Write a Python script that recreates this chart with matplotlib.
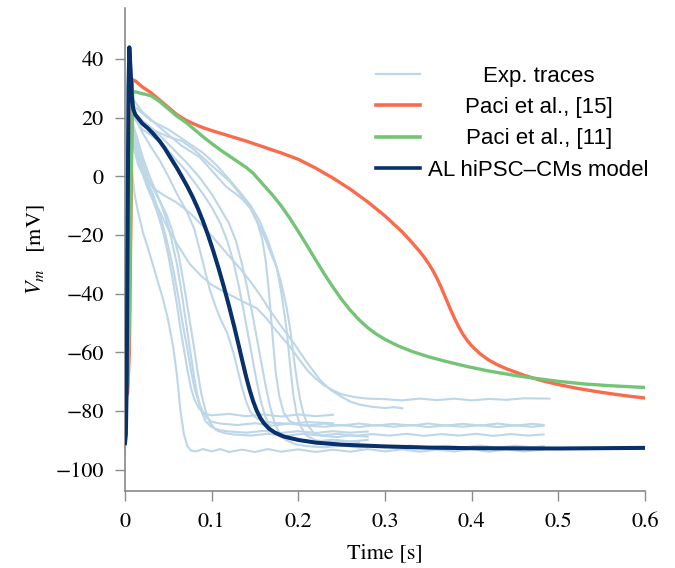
import matplotlib
matplotlib.use("Agg")
import matplotlib.pyplot as plt
from matplotlib.transforms import Affine2D

# ---------------- data (time [s], Vm [mV]) ----------------
al_t = [0, 0.001, 0.002, 0.003, 0.004, 0.005, 0.0065, 0.008, 0.0095, 0.012, 0.016, 0.02, 0.026,
        0.032, 0.04, 0.046, 0.052, 0.06, 0.066, 0.072, 0.078, 0.084, 0.09, 0.096, 0.102, 0.108,
        0.114, 0.12, 0.126, 0.131, 0.136, 0.14, 0.144, 0.148, 0.152, 0.156, 0.16, 0.166, 0.173,
        0.183, 0.2, 0.22, 0.25, 0.3, 0.35, 0.4, 0.5, 0.6]
al_v = [-91, -88, -70, -20, 30, 44, 36, 27, 23, 21, 19.5, 18, 16.5, 14.7, 12, 9.5, 6.6, 2.8, -0.3,
        -3.5, -7.0, -10.9, -15.3, -20.2, -25.6, -31.4, -37.6, -44.2, -51.2, -57.4, -63.7, -68.6,
        -73.0, -76.8, -79.9, -82.3, -84.1, -86.0, -87.4, -88.7, -89.9, -90.8, -91.5, -92.1, -92.5,
        -92.7, -92.8, -92.6]

p15_t = [0, 0.003, 0.005, 0.007, 0.0085, 0.012, 0.02, 0.03, 0.04, 0.05, 0.06, 0.07, 0.08, 0.09,
         0.1, 0.12, 0.14, 0.16, 0.18, 0.2, 0.22, 0.24, 0.26, 0.28, 0.3, 0.32, 0.33, 0.34, 0.345,
         0.35, 0.355, 0.36, 0.365, 0.37, 0.375, 0.38, 0.385, 0.39, 0.395, 0.4, 0.41, 0.42, 0.43,
         0.44, 0.46, 0.48, 0.5, 0.52, 0.54, 0.56, 0.58, 0.6]
p15_v = [-76, -74, -60, -10, 33, 32.5, 30.5, 28.5, 26, 23.5, 21, 19.2, 17.8, 16.6, 15.6, 13.8, 12,
         10, 8, 5.8, 2.8, -0.6, -4.4, -8.7, -13.5, -19, -22.2, -25.6, -27.5, -29.6, -32, -34.8,
         -38, -41.5, -45, -48.3, -51.3, -53.9, -56, -57.8, -60.6, -62.7, -64.3, -65.6, -67.8,
         -69.6, -71, -72.2, -73.2, -74.1, -74.9, -75.6]

p11_t = [0, 0.003, 0.005, 0.007, 0.009, 0.02, 0.03, 0.04, 0.05, 0.06, 0.072, 0.08, 0.09, 0.1,
         0.11, 0.12, 0.13, 0.14, 0.148, 0.16, 0.17, 0.18, 0.19, 0.2, 0.21, 0.22, 0.23, 0.24,
         0.25, 0.26, 0.27, 0.28, 0.29, 0.3, 0.315, 0.332, 0.35, 0.37, 0.394, 0.42, 0.45, 0.471,
         0.5, 0.53, 0.56, 0.6]
p11_v = [-72, -70, -50, 0, 29, 28.2, 27.5, 25.5, 23, 20.5, 18, 16, 13.5, 11.2, 9, 7, 5, 3, 1, -3,
         -6.3, -10, -14.2, -18.8, -23.6, -28.5, -33.3, -37.8, -42, -45.7, -48.9, -51.6, -53.8,
         -55.6, -57.8, -59.8, -61.5, -63.1, -64.8, -66.4, -67.9, -68.8, -69.9, -70.8, -71.4, -72]

# experimental traces, each a list of (time, Vm) points
e1 = [(0, -91), (0.0015, -60), (0.003, 5), (0.0045, 22), (0.006, 14), (0.008, 2), (0.011, -6),
      (0.015, -12), (0.021, -19.5), (0.026, -24), (0.032, -30), (0.038, -36), (0.044, -42),
      (0.049, -48), (0.053, -54), (0.056, -59), (0.06, -68), (0.064, -80), (0.068, -88),
      (0.072, -92), (0.076, -93.5), (0.082, -93.8), (0.09, -93), (0.1, -93.8), (0.11, -93),
      (0.12, -94), (0.135, -93.2), (0.15, -94), (0.165, -93), (0.18, -93.9), (0.2, -93.1),
      (0.22, -94), (0.24, -93.2), (0.26, -93.9), (0.28, -93), (0.3, -93.8), (0.32, -93.1),
      (0.34, -93.9), (0.36, -93.2), (0.38, -93.8), (0.4, -93), (0.42, -93.9), (0.44, -93.1),
      (0.46, -93.8), (0.483, -93.2)]
e2 = [(0, -88), (0.0015, -55), (0.003, 8), (0.0045, 24), (0.007, 18), (0.01, 12), (0.015, 6),
      (0.02, 1), (0.026, -4), (0.032, -8), (0.038, -13), (0.044, -19), (0.05, -27), (0.055, -35),
      (0.06, -44), (0.064, -52), (0.068, -59), (0.072, -66), (0.076, -72), (0.08, -76),
      (0.085, -79), (0.09, -80.5), (0.095, -81.2), (0.1, -81.5), (0.12, -81), (0.14, -81.8),
      (0.16, -81.2), (0.18, -81.9), (0.2, -81.2), (0.22, -81.8), (0.24, -81.3)]
e3 = [(0, -92), (0.0015, -58), (0.003, 6), (0.0045, 25), (0.007, 20), (0.01, 14), (0.015, 8),
      (0.02, 3), (0.026, -2), (0.032, -6), (0.038, -11), (0.044, -17), (0.05, -24), (0.056, -32),
      (0.062, -42), (0.067, -51), (0.072, -59), (0.076, -66), (0.08, -72), (0.085, -77),
      (0.09, -80.5), (0.095, -82.5), (0.1, -83.7), (0.11, -84.3), (0.13, -84.8), (0.15, -84.2),
      (0.17, -85), (0.19, -84.3), (0.21, -85), (0.23, -84.3), (0.25, -85), (0.27, -84.3),
      (0.29, -85), (0.31, -84.4), (0.33, -85), (0.35, -84.3), (0.37, -85), (0.39, -84.4),
      (0.41, -85), (0.43, -84.3), (0.45, -85), (0.47, -84.4), (0.483, -84.8)]
e4 = [(0, -93), (0.0015, -60), (0.003, 5), (0.0045, 26), (0.007, 22), (0.01, 17), (0.015, 12),
      (0.02, 7), (0.027, 1), (0.034, -4), (0.041, -9), (0.048, -15), (0.054, -22), (0.06, -30),
      (0.065, -39), (0.07, -49), (0.075, -59), (0.079, -67), (0.083, -74), (0.088, -80),
      (0.093, -83.5), (0.1, -85.5), (0.11, -86.6), (0.12, -87), (0.14, -87.4), (0.16, -86.8),
      (0.18, -87.5), (0.2, -86.9), (0.22, -87.5), (0.24, -86.9), (0.26, -87.4), (0.28, -87)]
e5 = [(0, -95), (0.0015, -62), (0.003, 4), (0.0045, 24), (0.007, 20), (0.01, 15), (0.015, 10),
      (0.02, 5), (0.027, -1), (0.034, -5), (0.041, -9), (0.048, -13), (0.055, -19), (0.062, -27),
      (0.068, -37), (0.074, -48), (0.08, -59), (0.084, -67), (0.088, -74), (0.093, -80),
      (0.098, -84), (0.105, -86.5), (0.115, -87.6), (0.125, -88), (0.145, -88.4), (0.165, -87.8),
      (0.185, -88.5), (0.205, -87.8), (0.225, -88.4), (0.245, -87.8), (0.265, -88.5),
      (0.285, -87.9), (0.305, -88.4), (0.325, -87.8), (0.345, -88.5), (0.365, -87.9),
      (0.385, -88.4), (0.405, -87.8), (0.425, -88.5), (0.445, -87.9), (0.465, -88.4),
      (0.483, -88)]
m1 = [(0, -90), (0.0015, -58), (0.003, 5), (0.0045, 26), (0.007, 23), (0.01, 21), (0.02, 15),
      (0.03, 10), (0.04, 5.5), (0.05, 0), (0.06, -6), (0.072, -12.4), (0.08, -18), (0.087, -26),
      (0.093, -33), (0.098, -38.8), (0.104, -44), (0.11, -48.5), (0.118, -53.5), (0.125, -60),
      (0.13, -66), (0.135, -72), (0.14, -77), (0.145, -80.5), (0.152, -82.5), (0.16, -83.5),
      (0.17, -84), (0.19, -84.4), (0.21, -83.8), (0.24, -84.2)]
m2 = [(0, -90), (0.0015, -58), (0.003, 5), (0.0045, 25), (0.007, 22), (0.01, 20), (0.02, 16),
      (0.03, 14), (0.04, 12), (0.055, 7), (0.07, 2), (0.08, -2), (0.09, -6), (0.1, -10.5),
      (0.11, -16), (0.118, -22), (0.125, -29), (0.131, -37), (0.137, -46), (0.142, -54),
      (0.147, -62), (0.152, -70), (0.157, -77), (0.162, -82), (0.168, -86), (0.175, -88.2),
      (0.185, -89.5), (0.2, -90), (0.22, -90.4), (0.24, -89.8), (0.26, -90.4), (0.28, -89.9)]
m3 = [(0, -92), (0.0015, -58), (0.003, 5), (0.0045, 27), (0.007, 24), (0.01, 22), (0.02, 18),
      (0.03, 16), (0.04, 14), (0.055, 9.5), (0.07, 5), (0.085, 0), (0.1, -6), (0.11, -11),
      (0.12, -16), (0.128, -22), (0.135, -30), (0.141, -38), (0.147, -47), (0.152, -55),
      (0.157, -63), (0.162, -71), (0.167, -78), (0.172, -83.5), (0.178, -87.5), (0.186, -90),
      (0.196, -91.3), (0.21, -92), (0.23, -92.4), (0.25, -91.8), (0.27, -92.5), (0.29, -91.9),
      (0.31, -92.4), (0.33, -91.8), (0.35, -92.5), (0.37, -91.9), (0.39, -92.4), (0.41, -91.8),
      (0.43, -92.5), (0.45, -91.9), (0.47, -92.4), (0.483, -92)]
m4 = [(0, -90), (0.0015, -58), (0.003, 5), (0.0045, 27), (0.007, 24), (0.01, 22), (0.02, 19),
      (0.035, 15.5), (0.05, 13.5), (0.066, 12), (0.08, 9), (0.095, 5), (0.106, 2.1), (0.12, -1.5),
      (0.132, -5.8), (0.145, -11), (0.153, -16), (0.158, -21), (0.162, -28), (0.165, -36),
      (0.168, -46), (0.171, -57), (0.174, -67), (0.178, -75), (0.183, -80.5), (0.19, -83.5),
      (0.2, -84.7), (0.21, -85), (0.23, -85.4), (0.25, -84.8), (0.27, -85.5), (0.29, -84.8),
      (0.31, -85.4), (0.33, -84.8), (0.35, -85.5), (0.37, -84.9), (0.39, -85.4), (0.41, -84.8),
      (0.43, -85.5), (0.45, -84.9), (0.47, -85.4), (0.483, -85)]
m6 = [(0, -90), (0.0015, -58), (0.003, 5), (0.0045, 29), (0.007, 27), (0.01, 26), (0.02, 22),
      (0.035, 18), (0.048, 14.7), (0.065, 10.5), (0.086, 6.6), (0.1, 2), (0.117, -3.6),
      (0.128, -6), (0.136, -8), (0.145, -11), (0.152, -15), (0.16, -20), (0.168, -26),
      (0.175, -31), (0.18, -39), (0.184, -47), (0.187, -53.5), (0.19, -63), (0.194, -74),
      (0.198, -81), (0.203, -85.5), (0.21, -88.5), (0.22, -90), (0.235, -90.7), (0.25, -90.2),
      (0.27, -90.6)]
m7 = [(0, -90), (0.0015, -58), (0.003, 5), (0.0045, 28), (0.007, 25), (0.01, 24), (0.03, 19),
      (0.05, 16), (0.07, 12), (0.09, 8), (0.105, 4), (0.12, -1), (0.133, -5.5), (0.145, -10),
      (0.155, -15), (0.165, -22), (0.173, -29), (0.18, -36), (0.186, -44), (0.19, -51),
      (0.194, -60), (0.198, -69), (0.202, -76), (0.206, -81), (0.211, -85), (0.218, -87.5),
      (0.228, -88.5), (0.245, -88.9), (0.26, -88.3), (0.28, -88.8)]
a1 = [(0, -88), (0.0015, -55), (0.003, 5), (0.0045, 26), (0.007, 17), (0.01, 11), (0.015, 6),
      (0.02, 2), (0.026, -3), (0.032, -7.5), (0.04, -12), (0.05, -18), (0.062, -24), (0.075, -30),
      (0.088, -34), (0.1, -37), (0.112, -39), (0.125, -41), (0.138, -43), (0.152, -45),
      (0.162, -48), (0.17, -51), (0.18, -54.5), (0.19, -58), (0.2, -62), (0.21, -66), (0.22, -69),
      (0.23, -71.3), (0.24, -73), (0.25, -74.3), (0.265, -75.3), (0.28, -75.8), (0.3, -76),
      (0.32, -76.4), (0.34, -75.8), (0.36, -76.3), (0.38, -75.8), (0.4, -76.4), (0.42, -75.9),
      (0.44, -76.2), (0.46, -75.7), (0.49, -75.8)]
a2 = [(0, -88), (0.0015, -55), (0.003, 5), (0.0045, 25), (0.007, 18), (0.01, 10), (0.015, 4),
      (0.02, 1), (0.027, -2), (0.035, -4.5), (0.045, -6.5), (0.06, -9), (0.075, -12.5),
      (0.09, -17), (0.105, -22), (0.121, -27.5), (0.133, -31.5), (0.145, -36), (0.156, -40.5),
      (0.167, -45.6), (0.18, -51), (0.195, -57), (0.21, -63.5), (0.225, -69.4), (0.237, -72.8),
      (0.25, -75.2), (0.26, -76.8), (0.27, -77.8), (0.285, -78.6), (0.3, -79), (0.31, -78.7),
      (0.32, -79.1)]

exp_traces = [e1, e2, e3, e4, e5, m1, m2, m3, m4, m6, m7, a1, a2]

labels = ["Exp. traces", "Paci et al., [15]", "Paci et al., [11]", "AL hiPSC\u2013CMs model"]
x_ticks = [0, 0.1, 0.2, 0.3, 0.4, 0.5, 0.6]
y_ticks = [-100, -80, -60, -40, -20, 0, 20, 40]

# ---------------- plot ----------------
plt.rcParams['mathtext.fontset'] = 'stix'
W, H = 675, 568
fig = plt.figure(figsize=(W / 100, H / 100), dpi=100)
ax = fig.add_axes([125 / W, 1 - 491 / H, 520 / W, 483 / H])

c_exp = "#bdd6e8"
c_red = "#fb6a4a"
c_green = "#74c476"
c_blue = "#08306b"

for i, tr in enumerate(exp_traces):
    ax.plot([p[0] for p in tr], [p[1] for p in tr], color=c_exp, lw=1.5, zorder=1,
            label=labels[0] if i == 0 else None, solid_joinstyle='round')
ax.plot(p15_t, p15_v, color=c_red, lw=2.4, zorder=2, label=labels[1], solid_joinstyle='round')
ax.plot(p11_t, p11_v, color=c_green, lw=2.4, zorder=3, label=labels[2], solid_joinstyle='round')
ax.plot(al_t, al_v, color=c_blue, lw=2.9, zorder=4, label=labels[3], solid_joinstyle='round')

ax.set_xlim(0, 0.6)
ax.set_ylim(-107.3, 57.4)
ax.set_xticks(x_ticks)
ax.set_xticklabels([("%g" % x) for x in x_ticks])
ax.set_yticks(y_ticks)
ax.set_yticklabels([("\u2212%d" % -y) if y < 0 else ("%d" % y) for y in y_ticks])

for s in ['top', 'right']:
    ax.spines[s].set_visible(False)
for s in ['left', 'bottom']:
    ax.spines[s].set_color('#7f7f7f')
    ax.spines[s].set_linewidth(1.1)
ax.tick_params(direction='out', length=7.2, width=1.0, color='#8c8c8c', labelsize=16)
ax.tick_params(axis='x', pad=8)
ax.tick_params(axis='y', pad=8)
for lab in ax.get_xticklabels() + ax.get_yticklabels():
    lab.set_fontfamily('STIXGeneral')

ax.set_xlabel("Time [s]", fontsize=16, fontfamily='STIXGeneral', labelpad=8)
ax.set_ylabel(r"$V_m$   [mV]", fontsize=16, fontfamily='STIXGeneral', labelpad=6)

fs = 16
leg = ax.legend(loc='upper left', frameon=False,
                prop={'family': 'Liberation Sans', 'size': fs},
                handlelength=2.0, handletextpad=0.36, labelspacing=0.46,
                borderpad=0, borderaxespad=0,
                bbox_to_anchor=(376 / W, 1 - 66 / H), bbox_transform=fig.transFigure)
for h in leg.get_lines():
    h.set_linewidth(2.6)
leg.get_lines()[0].set_linewidth(1.6)

fig.canvas.draw()
r = fig.canvas.get_renderer()
widths = [t.get_window_extent(r).width for t in leg.get_texts()]
mw = max(widths)
for t, w in zip(leg.get_texts(), widths):
    t.set_transform(t.get_transform() + Affine2D().translate((mw - w) / 2.0, 0))

fig.savefig("out.png", dpi=100)
